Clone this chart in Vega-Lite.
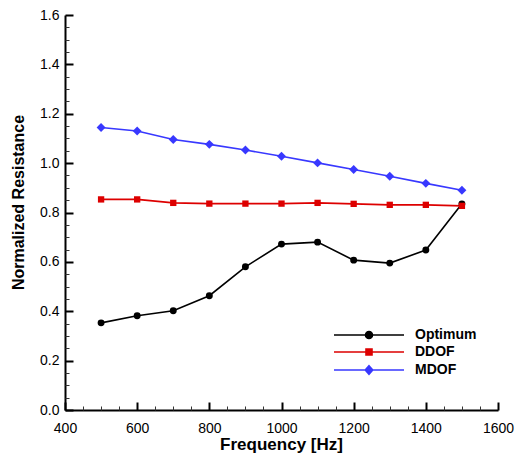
{
  "$schema": "https://vega.github.io/schema/vega-lite/v6.json",
  "width": 433,
  "height": 395,
  "autosize": {"type": "none"},
  "padding": {"left": 65, "top": 15, "right": 20, "bottom": 49},
  "config": {"view": {"stroke": null}, "font": "Liberation Sans"},
  "data": {
    "values": [
      {"series": "Optimum", "freq": 500, "r": 0.353},
      {"series": "Optimum", "freq": 600, "r": 0.382},
      {"series": "Optimum", "freq": 700, "r": 0.402},
      {"series": "Optimum", "freq": 800, "r": 0.463},
      {"series": "Optimum", "freq": 900, "r": 0.58},
      {"series": "Optimum", "freq": 1000, "r": 0.672},
      {"series": "Optimum", "freq": 1100, "r": 0.68},
      {"series": "Optimum", "freq": 1200, "r": 0.607},
      {"series": "Optimum", "freq": 1300, "r": 0.595},
      {"series": "Optimum", "freq": 1400, "r": 0.648},
      {"series": "Optimum", "freq": 1500, "r": 0.835},
      {"series": "DDOF", "freq": 500, "r": 0.853},
      {"series": "DDOF", "freq": 600, "r": 0.853},
      {"series": "DDOF", "freq": 700, "r": 0.839},
      {"series": "DDOF", "freq": 800, "r": 0.836},
      {"series": "DDOF", "freq": 900, "r": 0.836},
      {"series": "DDOF", "freq": 1000, "r": 0.836},
      {"series": "DDOF", "freq": 1100, "r": 0.839},
      {"series": "DDOF", "freq": 1200, "r": 0.835},
      {"series": "DDOF", "freq": 1300, "r": 0.831},
      {"series": "DDOF", "freq": 1400, "r": 0.831},
      {"series": "DDOF", "freq": 1500, "r": 0.827},
      {"series": "MDOF", "freq": 500, "r": 1.144},
      {"series": "MDOF", "freq": 600, "r": 1.13},
      {"series": "MDOF", "freq": 700, "r": 1.096},
      {"series": "MDOF", "freq": 800, "r": 1.076},
      {"series": "MDOF", "freq": 900, "r": 1.053},
      {"series": "MDOF", "freq": 1000, "r": 1.028},
      {"series": "MDOF", "freq": 1100, "r": 1.001},
      {"series": "MDOF", "freq": 1200, "r": 0.974},
      {"series": "MDOF", "freq": 1300, "r": 0.947},
      {"series": "MDOF", "freq": 1400, "r": 0.918},
      {"series": "MDOF", "freq": 1500, "r": 0.89}
    ]
  },
  "resolve": {"axis": {"x": "independent", "y": "independent"}},
  "encoding": {
    "color": {
      "field": "series",
      "type": "nominal",
      "scale": {"domain": ["Optimum", "DDOF", "MDOF"], "range": ["#000000", "#dd0000", "#3838ff"]},
      "legend": {
        "orient": "none",
        "legendX": 297,
        "legendY": 313,
        "title": null,
        "symbolSize": 100,
        "symbolStrokeWidth": 1.6,
        "labelFontSize": 14,
        "labelFontWeight": "bold",
        "labelColor": "black",
        "labelOffset": 39,
        "rowPadding": 3,
        "encode": {
          "symbols": {
            "update": {
              "shape": {"signal": "datum.value == 'Optimum' ? 'M-7,0H7M0.7,0A0.7,0.7,0,1,1,-0.7,0A0.7,0.7,0,1,1,0.7,0Z' : datum.value == 'DDOF' ? 'M-7,0H7M-0.6,-0.6H0.6V0.6H-0.6Z' : 'M-7,0H7M0,-0.85L0.75,0L0,0.85L-0.75,0Z'"},
              "fill": {"signal": "scale('color', datum.value)"},
              "stroke": {"signal": "scale('color', datum.value)"},
              "opacity": {"value": 1},
              "fillOpacity": {"value": 1}
            }
          }
        }
      }
    }
  },
  "layer": [
    {
      "mark": {"type": "line", "strokeWidth": 1.6},
      "encoding": {
        "x": {
          "field": "freq",
          "type": "quantitative",
          "scale": {"domain": [400, 1600], "nice": false, "zero": false},
          "axis": {
            "orient": "bottom",
            "title": "Frequency [Hz]",
            "values": [400, 600, 800, 1000, 1200, 1400, 1600],
            "format": "d",
            "grid": false,
            "domainColor": "black",
            "domainWidth": 2,
            "tickColor": "black",
            "tickWidth": 2,
            "tickSize": -8,
            "labelFontSize": 14,
            "labelColor": "black",
            "labelBaseline": "alphabetic",
            "labelPadding": 30,
            "labelFlush": false,
            "labelOverlap": false,
            "titleFontSize": 17,
            "titleFontWeight": "bold",
            "titleColor": "black",
            "titleX": 216,
            "titleY": 39,
            "titleBaseline": "alphabetic"
          }
        },
        "y": {
          "field": "r",
          "type": "quantitative",
          "scale": {"domain": [0, 1.6], "nice": false},
          "axis": {
            "orient": "left",
            "title": "Normalized Resistance",
            "values": [0, 0.2, 0.4, 0.6, 0.8, 1.0, 1.2, 1.4, 1.6],
            "format": ".1f",
            "grid": false,
            "domainColor": "black",
            "domainWidth": 2,
            "tickColor": "black",
            "tickWidth": 2,
            "tickSize": -8,
            "labelFontSize": 14,
            "labelColor": "black",
            "labelPadding": 14,
            "labelFlush": false,
            "labelOverlap": false,
            "titleFontSize": 16,
            "titleFontWeight": "bold",
            "titleColor": "black",
            "titleX": -47,
            "titleY": 187,
            "titleBaseline": "middle"
          }
        }
      }
    },
    {
      "transform": [{"filter": "datum.series == 'Optimum'"}],
      "mark": {"type": "point", "filled": true, "opacity": 1, "shape": "circle", "size": 48},
      "encoding": {
        "x": {"field": "freq", "type": "quantitative", "axis": null},
        "y": {"field": "r", "type": "quantitative", "axis": null}
      }
    },
    {
      "transform": [{"filter": "datum.series == 'DDOF'"}],
      "mark": {"type": "point", "filled": true, "opacity": 1, "shape": "square", "size": 40},
      "encoding": {
        "x": {"field": "freq", "type": "quantitative", "axis": null},
        "y": {"field": "r", "type": "quantitative", "axis": null}
      }
    },
    {
      "transform": [{"filter": "datum.series == 'MDOF'"}],
      "mark": {"type": "point", "filled": true, "opacity": 1, "shape": "diamond", "size": 80},
      "encoding": {
        "x": {
          "field": "freq",
          "type": "quantitative",
          "axis": {
            "orient": "bottom",
            "title": null,
            "values": [450,500,550,650,700,750,850,900,950,1050,1100,1150,1250,1300,1350,1450,1500,1550],
            "labels": false,
            "domain": false,
            "grid": false,
            "tickColor": "#333333",
            "tickWidth": 1,
            "tickSize": -4
          }
        },
        "y": {
          "field": "r",
          "type": "quantitative",
          "axis": {
            "orient": "left",
            "title": null,
            "values": [0.05,0.1,0.15,0.25,0.3,0.35,0.45,0.5,0.55,0.65,0.7,0.75,0.85,0.9,0.95,1.05,1.1,1.15,1.25,1.3,1.35,1.45,1.5,1.55],
            "labels": false,
            "domain": false,
            "grid": false,
            "tickColor": "#333333",
            "tickWidth": 1,
            "tickSize": -4
          }
        }
      }
    }
  ]
}
